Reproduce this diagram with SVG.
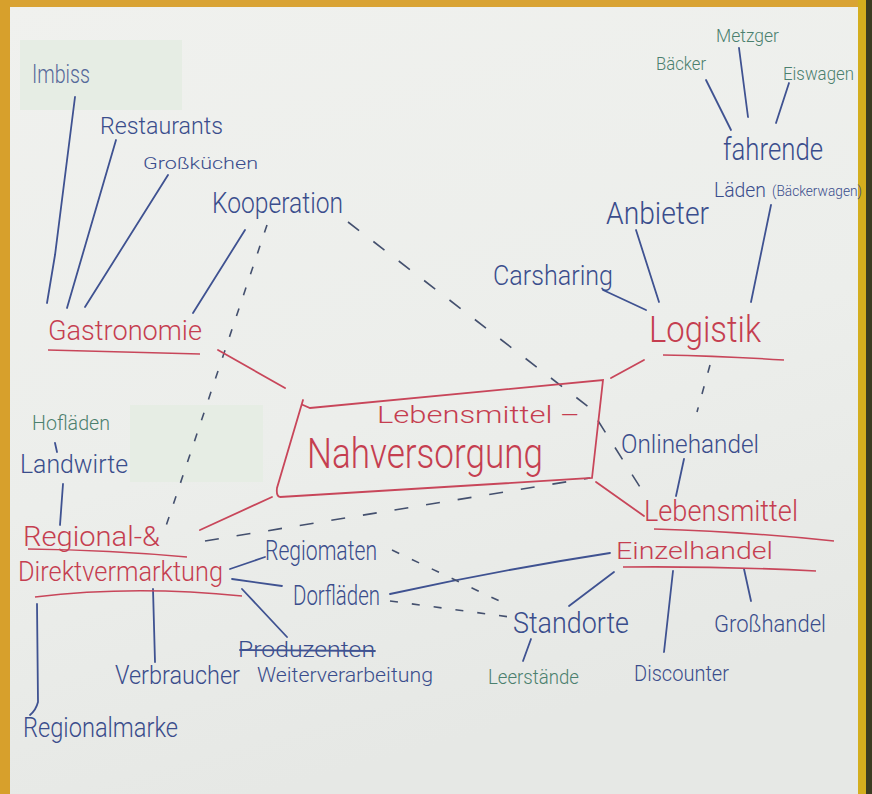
<svg xmlns="http://www.w3.org/2000/svg" width="872" height="794" viewBox="0 0 872 794">
<defs>
<linearGradient id="paper" x1="0" y1="0" x2="0.3" y2="1">
<stop offset="0" stop-color="#f0f1ee"/>
<stop offset="0.6" stop-color="#eceeeb"/>
<stop offset="1" stop-color="#e6e8e5"/>
</linearGradient>
</defs>
<style>
text{font-family:Roboto,"Liberation Sans",sans-serif;font-weight:300}
.b{fill:#3a4d8c}
.bg{fill:#56699a}
.r{fill:#c53e50}
.g{fill:#4b806e}
.lb{stroke:#3f5291;stroke-width:1.8;fill:none;stroke-linecap:round}
.lr{stroke:#c8465a;stroke-width:1.8;fill:none;stroke-linecap:round}
.db{stroke:#44506e;stroke-width:1.6;fill:none;stroke-dasharray:14 18}
.dd{stroke:#44506e;stroke-width:1.6;fill:none;stroke-dasharray:8 14}
.ul{stroke:#c8465a;stroke-width:1.6;fill:none}
</style>
<rect x="0" y="0" width="872" height="794" fill="url(#paper)"/>
<rect x="0" y="0" width="872" height="7" fill="#d9a334"/>
<rect x="0" y="0" width="10" height="794" fill="#d7a02c"/>
<rect x="858" y="0" width="8" height="794" fill="#d4ae1e"/>
<rect x="866" y="0" width="6" height="794" fill="#3b3c22"/>
<rect x="20" y="40" width="162" height="70" fill="#e6ede4"/>
<rect x="130" y="405" width="133" height="77" fill="#e6ede4"/>

<g id="connectors">
<path class="lb" d="M75 97 L55 255 L47 303"/>
<path class="lb" d="M116 140 L67 308"/>
<path class="lb" d="M168 175 L85 307"/>
<path class="lb" d="M245 230 L193 313"/>
<path class="dd" d="M267 225 L163 535"/>
<path class="db" d="M348 222 L590 408 L645 495"/>
<path class="lr" d="M218 350 L285 388"/>
<path class="lr" d="M644 360 L611 378"/>
<path class="lb" d="M603 290 L646 310"/>
<path class="lb" d="M636 230 L659 302"/>
<path class="lb" d="M771 205 L751 302"/>
<path class="lb" d="M706 80 L731 130"/>
<path class="lb" d="M739 48 L748 117"/>
<path class="lb" d="M789 83 L776 123"/>
<path class="dd" d="M710 365 L697 412"/>
<path class="lb" d="M684 459 L676 496"/>
<path class="lr" d="M596 482 L644 516"/>
<path class="lb" d="M390 594 Q500 570 610 553"/>
<path class="lb" d="M569 606 L614 572"/>
<path class="lb" d="M531 639 L523 661"/>
<path class="lb" d="M673 571 L664 652"/>
<path class="lb" d="M744 569 L751 601"/>
<path class="dd" d="M392 550 L510 606"/>
<path class="dd" d="M390 601 L510 617"/>
<path class="lr" d="M200 530 L272 497"/>
<path class="db" d="M205 541 L590 478"/>
<path class="lb" d="M55 443 L57 452"/>
<path class="lb" d="M63 484 L60 525"/>
<path class="lb" d="M230 569 L265 557"/>
<path class="lb" d="M232 579 L282 586"/>
<path class="lb" d="M242 589 L287 637"/>
<path class="lb" d="M153 589 L155 662"/>
<path class="lb" d="M37 604 L38 702 Q36 710 30 715"/>
</g>

<g id="center">
<path class="lr" d="M303 405 L310 408 L603 380 L592 478 L280 497 Q276 496 277 488 L303 400"/>
<text class="r" x="377" y="423" font-size="24" textLength="203" lengthAdjust="spacingAndGlyphs">Lebensmittel –</text>
<text class="r" x="307" y="468" font-size="42" textLength="236" lengthAdjust="spacingAndGlyphs">Nahversorgung</text>
</g>

<g id="imbiss"><text class="bg" x="32" y="83" font-size="26" textLength="58" lengthAdjust="spacingAndGlyphs">Imbiss</text></g>
<g id="restaurants"><text class="b" x="100" y="134" font-size="24" textLength="123" lengthAdjust="spacingAndGlyphs">Restaurants</text></g>
<g id="grosskuechen"><text class="b" x="143" y="169" font-size="17" textLength="115" lengthAdjust="spacingAndGlyphs">Großküchen</text></g>
<g id="kooperation"><text class="b" x="212" y="213" font-size="30" textLength="131" lengthAdjust="spacingAndGlyphs">Kooperation</text></g>
<g id="gastronomie">
<text class="r" x="48" y="340" font-size="28" textLength="154" lengthAdjust="spacingAndGlyphs">Gastronomie</text>
<path class="ul" d="M48 350 Q120 352 200 354"/>
</g>
<g id="carsharing"><text class="b" x="493" y="285" font-size="28" textLength="120" lengthAdjust="spacingAndGlyphs">Carsharing</text></g>
<g id="anbieter"><text class="b" x="606" y="224" font-size="32" textLength="103" lengthAdjust="spacingAndGlyphs">Anbieter</text></g>
<g id="fahrende">
<text class="b" x="723" y="160" font-size="32" textLength="100" lengthAdjust="spacingAndGlyphs">fahrende</text>
<text class="b" x="714" y="197" font-size="21" textLength="52" lengthAdjust="spacingAndGlyphs">Läden</text>
<text class="b" x="772" y="196" font-size="15" textLength="90" lengthAdjust="spacingAndGlyphs">(Bäckerwagen)</text>
</g>
<g id="baecker"><text class="g" x="656" y="70" font-size="19" textLength="50" lengthAdjust="spacingAndGlyphs">Bäcker</text></g>
<g id="metzger"><text class="g" x="716" y="42" font-size="18" textLength="63" lengthAdjust="spacingAndGlyphs">Metzger</text></g>
<g id="eiswagen"><text class="g" x="783" y="80" font-size="18" textLength="71" lengthAdjust="spacingAndGlyphs">Eiswagen</text></g>
<g id="logistik">
<text class="r" x="649" y="342" font-size="36" textLength="112" lengthAdjust="spacingAndGlyphs">Logistik</text>
<path class="ul" d="M663 355 Q720 356 784 360"/>
</g>
<g id="onlinehandel"><text class="b" x="621" y="453" font-size="26" textLength="138" lengthAdjust="spacingAndGlyphs">Onlinehandel</text></g>
<g id="einzelhandel">
<text class="r" x="644" y="521" font-size="30" textLength="154" lengthAdjust="spacingAndGlyphs">Lebensmittel</text>
<path class="ul" d="M654 529 Q750 532 834 541"/>
<text class="r" x="616" y="559" font-size="23" textLength="157" lengthAdjust="spacingAndGlyphs">Einzelhandel</text>
<path class="ul" d="M623 567 Q720 566 816 571"/>
</g>
<g id="standorte"><text class="b" x="513" y="633" font-size="30" textLength="116" lengthAdjust="spacingAndGlyphs">Standorte</text></g>
<g id="leerstaende"><text class="g" x="488" y="684" font-size="20" textLength="91" lengthAdjust="spacingAndGlyphs">Leerstände</text></g>
<g id="discounter"><text class="b" x="634" y="681" font-size="22" textLength="95" lengthAdjust="spacingAndGlyphs">Discounter</text></g>
<g id="grosshandel"><text class="b" x="714" y="632" font-size="24" textLength="112" lengthAdjust="spacingAndGlyphs">Großhandel</text></g>
<g id="hoflaeden"><text class="g" x="32" y="430" font-size="20" textLength="78" lengthAdjust="spacingAndGlyphs">Hofläden</text></g>
<g id="landwirte"><text class="b" x="20" y="473" font-size="26" textLength="108" lengthAdjust="spacingAndGlyphs">Landwirte</text></g>
<g id="regional">
<text class="r" x="23" y="546" font-size="27" textLength="137" lengthAdjust="spacingAndGlyphs">Regional-&amp;</text>
<path class="ul" d="M28 549 Q110 550 187 557"/>
<text class="r" x="18" y="581" font-size="27" textLength="205" lengthAdjust="spacingAndGlyphs">Direktvermarktung</text>
<path class="ul" d="M35 597 Q133 585 242 596"/>
</g>
<g id="regiomaten"><text class="b" x="265" y="560" font-size="27" textLength="112" lengthAdjust="spacingAndGlyphs">Regiomaten</text></g>
<g id="dorflaeden"><text class="b" x="293" y="605" font-size="28" textLength="87" lengthAdjust="spacingAndGlyphs">Dorfläden</text></g>
<g id="produzenten">
<text class="b" x="238" y="657" font-size="22" textLength="137" lengthAdjust="spacingAndGlyphs">Produzenten</text>
<path class="lb" d="M240 650 L375 651"/>
<text class="b" x="257" y="682" font-size="20" textLength="176" lengthAdjust="spacingAndGlyphs">Weiterverarbeitung</text>
</g>
<g id="verbraucher"><text class="b" x="115" y="684" font-size="25" textLength="125" lengthAdjust="spacingAndGlyphs">Verbraucher</text></g>
<g id="regionalmarke"><text class="b" x="23" y="737" font-size="27" textLength="155" lengthAdjust="spacingAndGlyphs">Regionalmarke</text></g>
</svg>
